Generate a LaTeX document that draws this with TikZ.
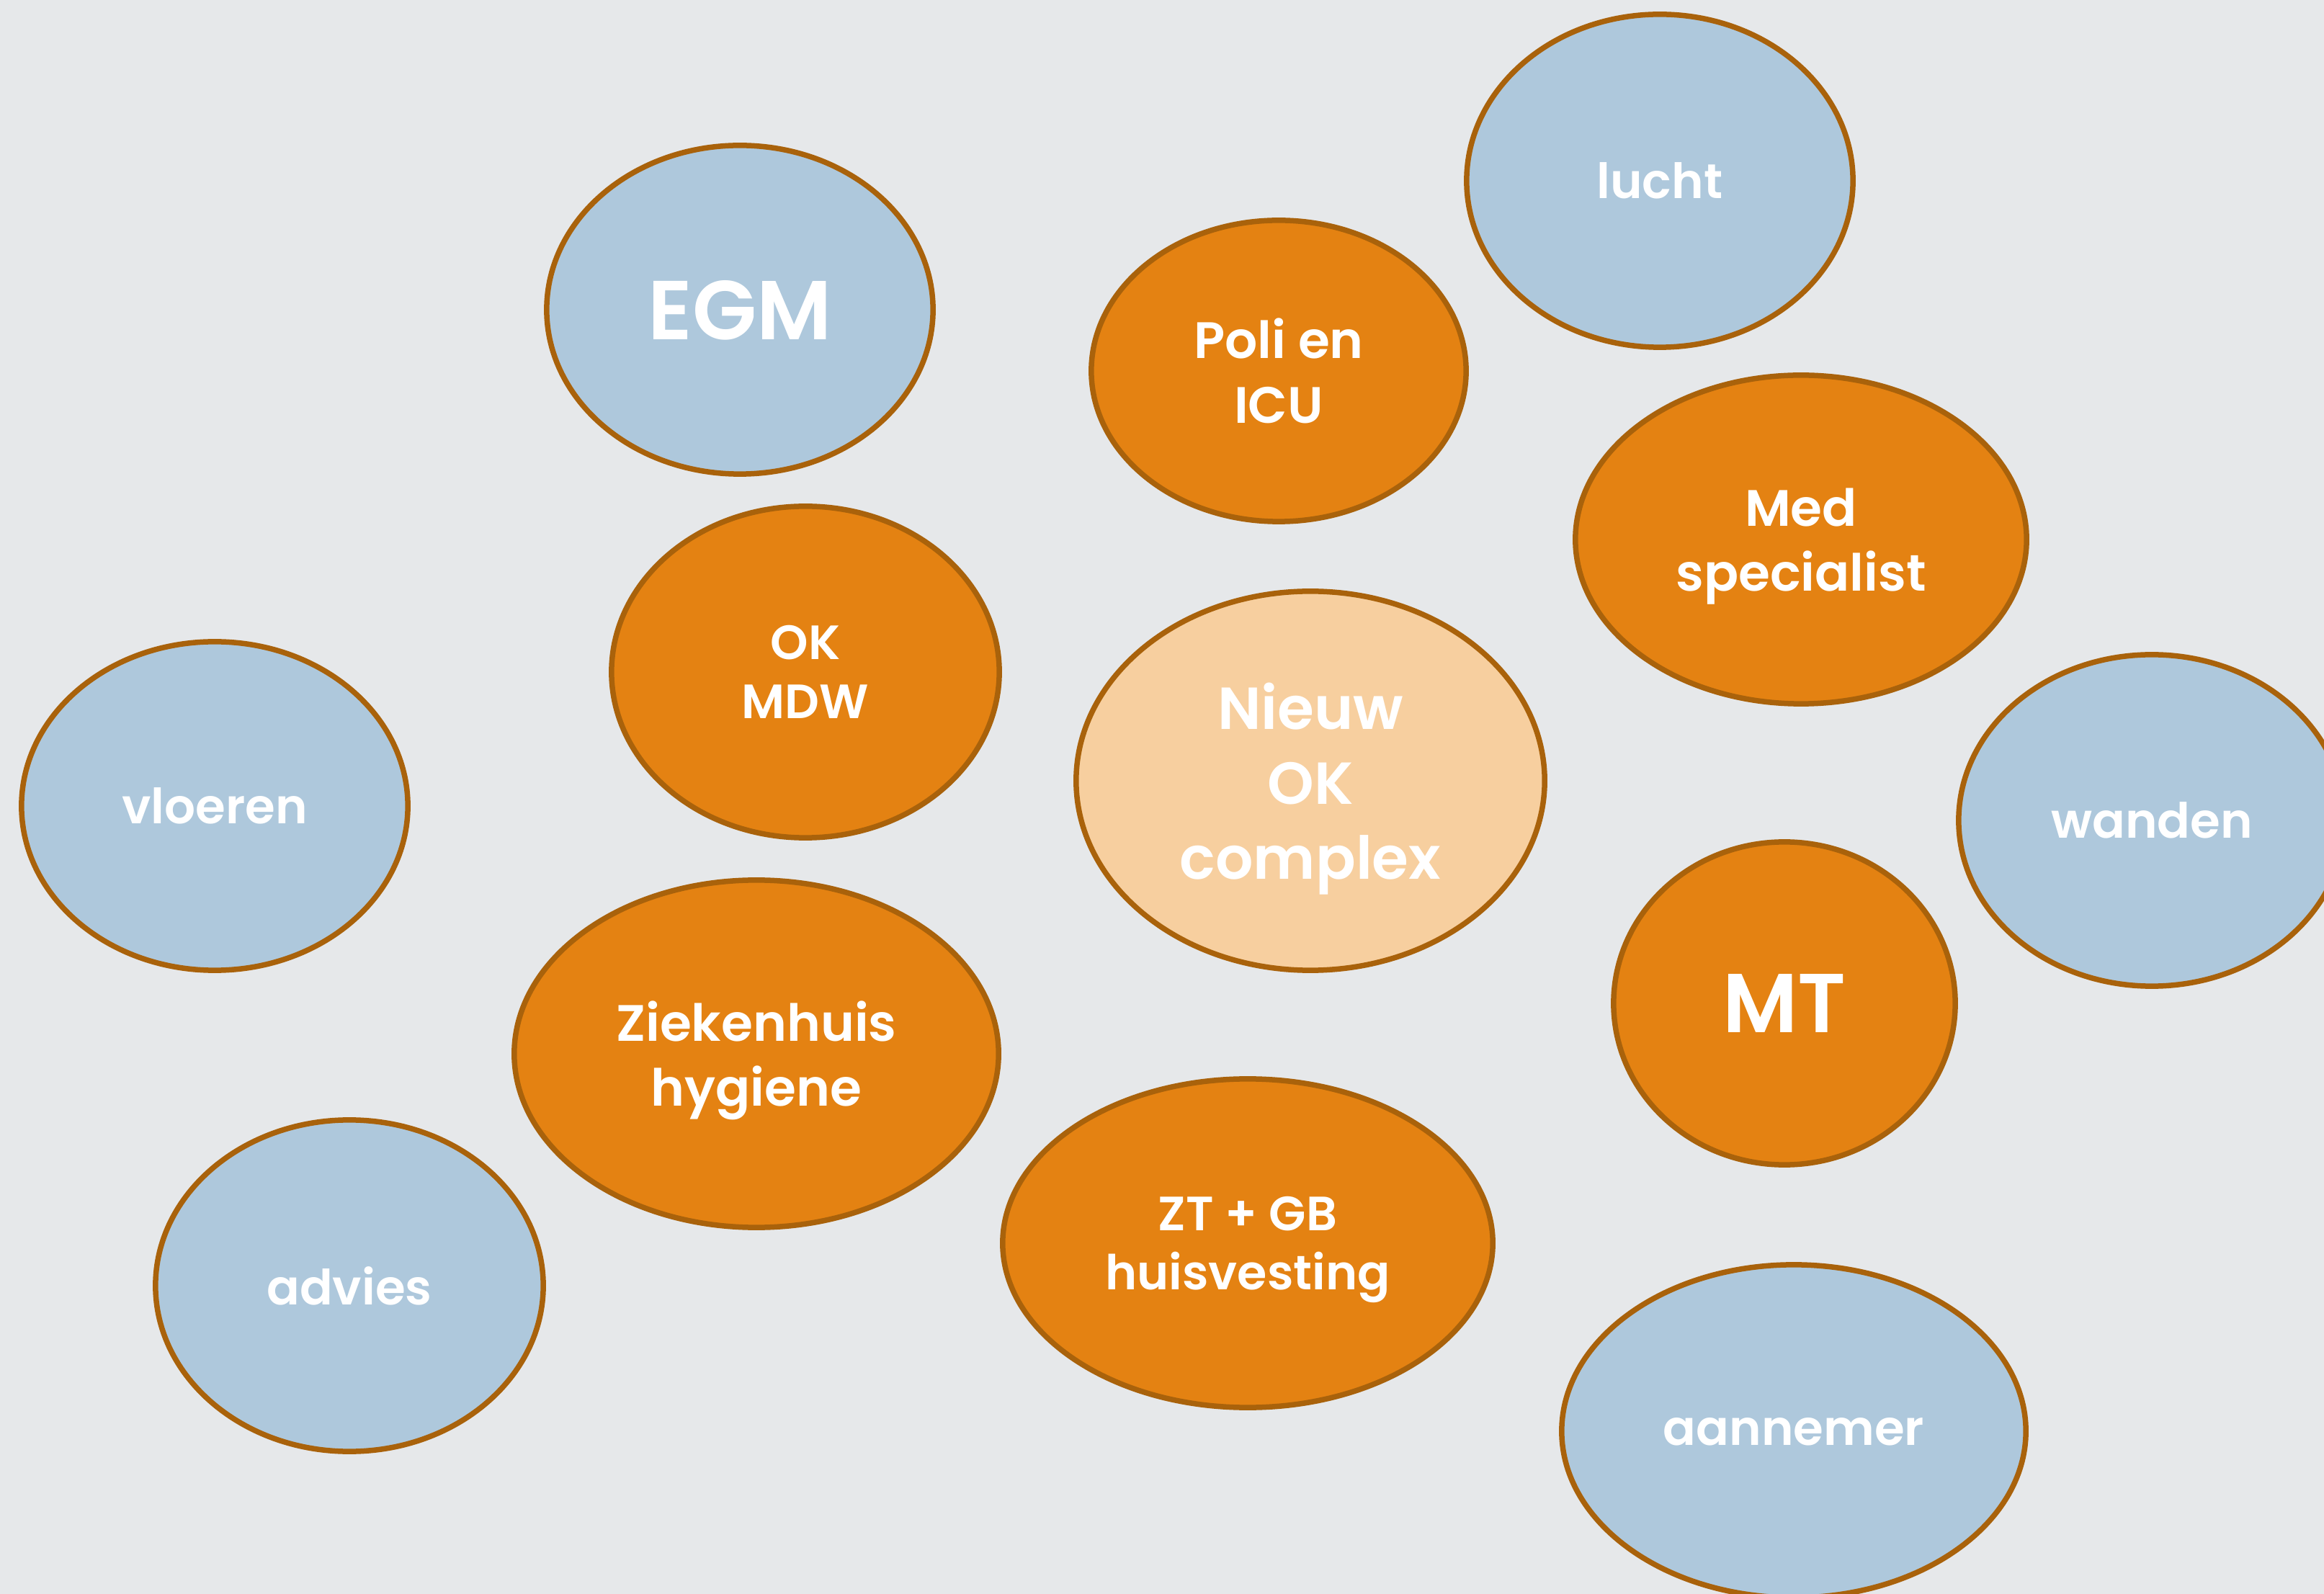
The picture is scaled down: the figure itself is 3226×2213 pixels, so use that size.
\documentclass[tikz,border=0pt]{standalone}
\usepackage{fontspec}
\setmainfont{Poppins}[BoldFont={Poppins SemiBold}]
\usetikzlibrary{shapes.geometric}

\definecolor{canvas}{HTML}{E6E8EA}
\definecolor{sky}{HTML}{AEC8DC}
\definecolor{amber}{HTML}{E48212}
\definecolor{peach}{HTML}{F7CF9F}
\definecolor{rim}{HTML}{A9620B}

\begin{document}
\begin{tikzpicture}[x=0.01cm,y=-0.01cm,
		party/.style={ellipse,draw=rim,line width=0.075cm,text=white,align=center,inner sep=0pt,text depth=0pt},
		outer party/.style={party,fill=sky,font=\fontsize{19.2}{24}\selectfont\bfseries},
		inner party/.style={party,fill=amber,font=\fontsize{20.2}{25.6}\selectfont\bfseries},
		small party/.style={inner party,font=\fontsize{19}{23.3}\selectfont\bfseries},
		big party/.style={font=\fontsize{33}{38}\selectfont\bfseries},
		core party/.style={party,fill=peach,font=\fontsize{23.4}{29.6}\selectfont\bfseries}]

		\fill [canvas] (0,0) rectangle (3226,2213);
		\useasboundingbox (0,0) rectangle (3226,2213);
		\clip (0,0) rectangle (3226,2213);

		% outer ring: the blue parties
		\node [outer party, big party, minimum width=5.36cm, minimum height=4.56cm] (egm) at (1027,430) {EGM};
		\node [outer party, minimum width=5.36cm, minimum height=4.62cm] (lucht) at (2304,251) {lucht};
		\node [outer party, minimum width=5.36cm, minimum height=4.56cm] (vloeren) at (298,1119) {vloeren};
		\node [outer party, minimum width=5.36cm, minimum height=4.60cm] (wanden) at (2987,1139) {wanden};
		\node [outer party, minimum width=5.38cm, minimum height=4.60cm] (advies) at (485,1785) {advies};
		\node [outer party, minimum width=6.44cm, minimum height=4.62cm] (aannemer) at (2490,1987) {aannemer};

		% inner ring: the orange parties
		\node [inner party, minimum width=5.20cm, minimum height=4.18cm] (poli) at (1775,515) {Poli en\\ICU};
		\node [inner party, minimum width=6.26cm, minimum height=4.56cm] (med) at (2500,749) {Med\\specialist};
		\node [small party, minimum width=5.38cm, minimum height=4.60cm] (okmdw) at (1118,933) {OK\\MDW};
		\node [inner party, big party, minimum width=4.74cm, minimum height=4.48cm] (mt) at (2477,1393) {MT};
		\node [inner party, minimum width=6.72cm, minimum height=4.82cm] (zh) at (1050,1463) {Ziekenhuis\\hygiene};
		\node [small party, minimum width=6.80cm, minimum height=4.56cm] (ztgb) at (1732,1726) {ZT + GB\\huisvesting};

		% centre
		\node [core party, minimum width=6.50cm, minimum height=5.26cm] (nieuw) at (1819,1084) {Nieuw\\OK\\complex};
\end{tikzpicture}
\end{document}
